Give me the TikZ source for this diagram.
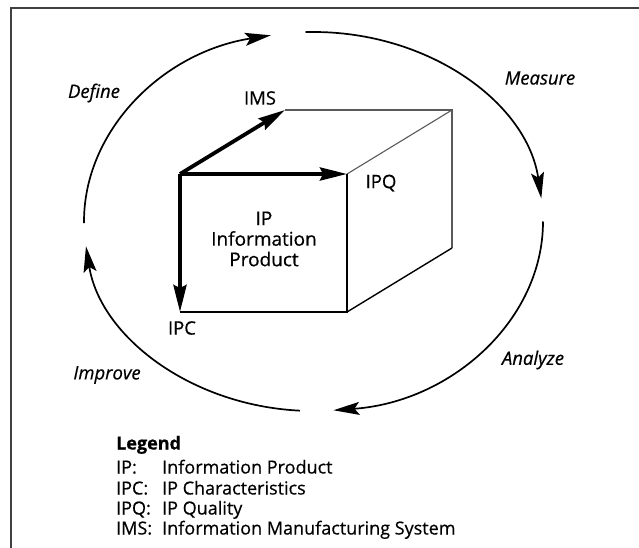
\documentclass[tikz,border=0pt]{standalone}
\usepackage{fontspec}
\setmainfont{Open Sans}[FakeBold=0.5]
\usetikzlibrary{arrows.meta,calc}
\begin{document}
\begin{tikzpicture}[x=1pt,y=1pt,
  frame/.style={draw=black!75, line width=2.4pt},
  cyc/.style={line width=1.7pt, -{Stealth[length=26pt,width=13pt,inset=5pt]}},
  axisarrow/.style={line width=3.8pt, -{Stealth[length=27pt,width=13pt,inset=3pt]}},
  frontedge/.style={line width=1.4pt, black},
  backedge/.style={line width=1.1pt, black!65},
  phase/.style={font=\fontsize{18.5}{20}\selectfont\itshape, inner sep=0pt},
  lbl/.style={font=\fontsize{18.5}{20}\selectfont, inner sep=0pt},
  center text/.style={font=\fontsize{19}{20.5}\selectfont, align=center, inner sep=0pt},
  legend/.style={font=\fontsize{18}{20}\selectfont, inner sep=0pt, anchor=base west}
]
\useasboundingbox (0,0) rectangle (639,-548);
% frame
\coordinate (f1) at (11,-548);
\coordinate (f2) at (11,-8);
\coordinate (f3) at (639,-8);
\draw[frame] (f1) -- (f2) -- (f3);

% cycle
\coordinate (C) at (313.5,-221.5);
\coordinate (d1) at ($(C)+(180.5:229.5 and 189.5)$);
\coordinate (m1) at ($(C)+(92:229.5 and 189.5)$);
\coordinate (a1) at ($(C)+(0:229.5 and 189.5)$);
\coordinate (i1) at ($(C)+(-93.4:229.5 and 189.5)$);
\draw[cyc] (d1) arc[start angle=180.5, end angle=100.7, x radius=229.5, y radius=189.5];
\draw[cyc] (m1) arc[start angle=92, end angle=7, x radius=229.5, y radius=189.5];
\draw[cyc] (a1) arc[start angle=0, end angle=-85, x radius=229.5, y radius=189.5];
\draw[cyc] (i1) arc[start angle=-93.4, end angle=-172.5, x radius=229.5, y radius=189.5];

\node[phase] (define) at (94,-93) {Define};
\node[phase] (measure) at (540,-78) {Measure};
\node[phase] (analyze) at (533,-360) {Analyze};
\node[phase] (improve) at (107,-375) {Improve};

% cube
\coordinate (A) at (180,-174);
\coordinate (B) at (347,-174);
\coordinate (Cc) at (180,-312);
\coordinate (D) at (347,-312);
\coordinate (E) at (285,-110);
\coordinate (F) at (452,-110);
\coordinate (G) at (452,-248);
\draw[backedge] (E) -- (F) -- (G);
\draw[backedge] (B) -- (F);
\draw[frontedge] (D) -- (G);
\draw[frontedge] (B) -- (D) -- (Cc);
\draw[axisarrow] (A) -- (E);
\draw[axisarrow] (A) -- (B);
\draw[axisarrow] (A) -- (Cc);

\node[lbl] (ims) at (260,-98) {IMS};
\node[lbl] (ipq) at (381,-183) {IPQ};
\node[lbl] (ipc) at (182,-328) {IPC};
\node[center text] (ip) at (264,-239) {IP\\Information\\Product};

% legend
\node[legend, font=\fontsize{18}{20}\selectfont\bfseries] (lg) at (116,-449.5) {Legend};
\node[legend] (k1) at (116,-473.5) {IP:};
\node[legend] (v1) at (162,-473.5) {Information Product};
\node[legend] (k2) at (116,-494.5) {IPC:};
\node[legend] (v2) at (162,-494.5) {IP Characteristics};
\node[legend] (k3) at (116,-514.5) {IPQ:};
\node[legend] (v3) at (162,-514.5) {IP Quality};
\node[legend] (k4) at (116,-534.5) {IMS:};
\node[legend] (v4) at (162,-534.5) {Information Manufacturing System};
\end{tikzpicture}
\end{document}
